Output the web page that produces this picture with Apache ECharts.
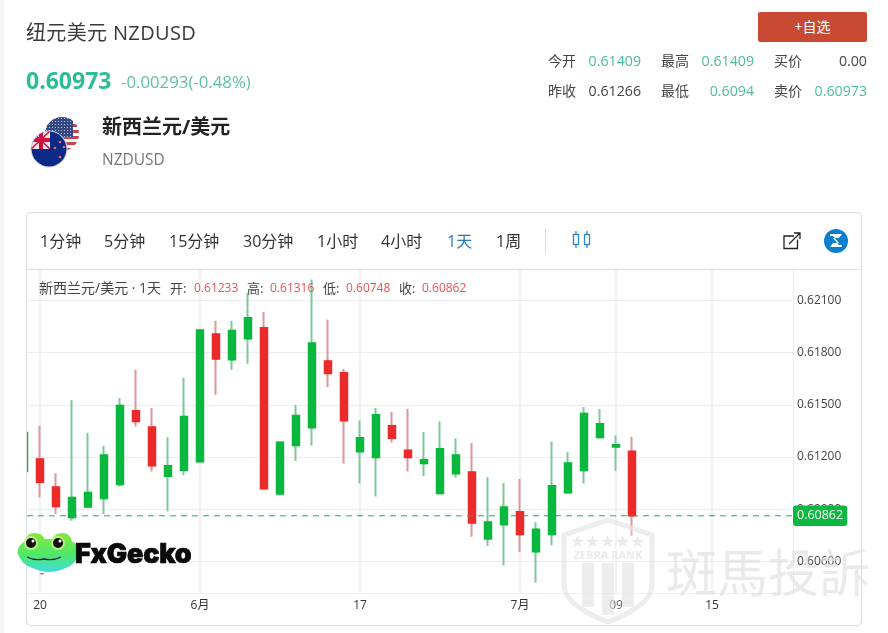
<!DOCTYPE html>
<html><head><meta charset="utf-8">
<script src="https://cdn.jsdelivr.net/npm/echarts@6/dist/echarts.min.js"></script>
<style>
html,body{margin:0;padding:0;width:888px;height:633px;overflow:hidden;background:#fff;font-family:"Open Sans","Noto Sans CJK SC",sans-serif;color:#333}
.t{position:absolute;white-space:nowrap;line-height:1;transform:translateY(-50%)}
.r{transform:translate(-100%,-50%)}
#strip{position:absolute;left:0;top:0;width:4px;height:633px;background:#f6f6f6}
#mask{position:absolute;left:4px;top:262px;width:22px;height:340px;background:#fff}
#card{position:absolute;left:26px;top:212px;width:834px;height:412px;border:1px solid #ddd;border-radius:5px;box-sizing:content-box}
#sep{position:absolute;left:27px;top:269px;width:833px;height:1px;background:#e2e2e2}
#chart{position:absolute;left:0;top:0;width:888px;height:633px}
#btn{position:absolute;left:758px;top:12px;width:109px;height:30px;background:#c84a35;border-radius:2px;color:#fff;font-size:14px;line-height:30px;text-align:center}
.lay{position:absolute;left:0;top:0;width:888px;height:633px;pointer-events:none}
</style></head><body>
<div id="chart"></div>
<div id="mask"></div>
<div id="strip"></div>
<div id="card"></div><div id="sep"></div>
<div class="lay" id="top"></div>
<script>
// ---- data ----
const xTickIndex = [1, 11, 21, 31, 37, 43];
const xTickLabels = ['20', '6月', '17', '7月', '09', '15'];
const yTicks = [0.606, 0.609, 0.612, 0.615, 0.618, 0.621];
const opens  = [.61116,.61188,.61027,.60852,.60913,.60961,.61042,.61466,.61372,.6109,.61124,.61172,.61907,.61759,.6188,.61943,.60988,.61266,.61368,.61751,.61684,.6123,.61197,.61379,.61239,.61162,.6099,.61103,.61113,.60729,.60811,.60885,.60656,.60754,.60994,.61122,.61312,.61258,.61233];
const closes = [.61341,.61055,.60915,.60967,.60996,.61211,.61496,.61404,.61149,.61149,.61433,.6193,.61763,.61926,.62,.61017,.61285,.61438,.61855,.6168,.61408,.6131,.61442,.61308,.61197,.61184,.61247,.61212,.60821,.60827,.60912,.60754,.60785,.61034,.61165,.6145,.61391,.6127,.60862];
const lows   = [.61116,.60967,.60873,.60833,.60913,.60873,.6103,.61375,.61116,.60887,.61096,.61172,.61558,.61701,.61736,.61017,.60988,.61178,.61266,.616,.61162,.61048,.60973,.61283,.61116,.6109,.6099,.6108,.60742,.60689,.60576,.60654,.60478,.60693,.60994,.61047,.61312,.6112,.60748];
const highs  = [.61341,.61379,.61107,.61527,.61339,.61264,.61539,.61701,.61481,.61314,.61655,.6193,.61983,.61983,.62144,.62033,.61285,.615,.62219,.61989,.61705,.6141,.61481,.61458,.61477,.61343,.61404,.61306,.6128,.61084,.6105,.61073,.60825,.61289,.61228,.61487,.61475,.61323,.61316];
const lastPrice = 0.60862;
const quoteLabels = ['今开','最高','买价','昨收','最低','卖价'];
const quoteValues = ['0.61409','0.61409','0.00','0.61266','0.6094','0.60973'];
const periods = ['1分钟','5分钟','15分钟','30分钟','1小时','4小时','1天','1周'];

// ---- page furniture ----
const GREEN='#4dbd9f', DARK='#444', RED='#e5535b';
const topLay=document.getElementById('top');
function txt(s,x,y,size,color,extra){const d=document.createElement('div');d.className='t'+(extra&&extra.right?' r':'');d.textContent=s;
 d.style.cssText=`left:${x}px;top:${y}px;font-size:${size}px;color:${color};`+(extra&&extra.css||'');topLay.appendChild(d);return d;}
txt('纽元美元 NZDUSD',26,33,20,'#3a3a3a',{css:'letter-spacing:.35px'});
txt('0.60973',26,80,23,'#2dbd96',{css:'font-weight:700'});
txt('-0.00293(-0.48%)',121,82,16.8,'#5fbfa3');
txt('新西兰元/美元',102,127,20,'#222',{css:'font-weight:700'});
txt('NZDUSD',102,160,15.5,'#777');
const qx=[548,661,774],qr=[641,754,867],qy=[61,91],qc=[GREEN,GREEN,DARK,DARK,GREEN,GREEN];
quoteLabels.forEach((l,i)=>{const c=i%3,r=Math.floor(i/3);
 txt(l,qx[c],qy[r],14,DARK);txt(quoteValues[i],qr[c],qy[r],14.2,qc[i],{right:true});});
const px=[40,104,169,243,317,381,447,496];
periods.forEach((p,i)=>txt(p,px[i],241,16,i===6?'#2a7ab8':'#333'));
const btn=document.createElement('div');btn.id='btn';btn.textContent='+自选';topLay.appendChild(btn);
// chart legend line
txt('新西兰元/美元 · 1天',39,288,14,'#444');
[['开:',170,'0.61233',194],['高:',247,'0.61316',270],['低:',323,'0.60748',346],['收:',399,'0.60862',422]].forEach(a=>{
 txt(a[0],a[1],288,13,'#444');txt(a[2],a[3],288,12,RED);});

topLay.insertAdjacentHTML('beforeend',`
<div style="position:absolute;left:545px;top:229px;width:1px;height:25px;background:#ddd"></div>
<svg style="position:absolute;left:0;top:0" width="888" height="633">
 <defs>
  <clipPath id="cu"><circle cx="62" cy="134" r="17"/></clipPath>
  <clipPath id="cn"><circle cx="49" cy="149" r="17.5"/></clipPath>
  <pattern id="dots" width="3" height="3" patternUnits="userSpaceOnUse"><rect width="3" height="3" fill="#34477f"/><circle cx="1.5" cy="1.500" r=".6" fill="#c5cde6"/></pattern>
  <linearGradient id="fg" x1="0" y1="0" x2="0" y2="1"><stop offset="0" stop-color="#86e83c"/><stop offset=".55" stop-color="#4fe86a"/><stop offset="1" stop-color="#3fdce0"/></linearGradient>
 </defs>
 <g clip-path="url(#cu)">
  <rect x="45" y="117" width="34" height="34" fill="#fff"/>
  <rect x="45" y="124" width="34" height="3" fill="#c8424f"/><rect x="45" y="130" width="34" height="3" fill="#c8424f"/><rect x="45" y="136" width="34" height="3" fill="#c8424f"/><rect x="45" y="142" width="34" height="3" fill="#c8424f"/><rect x="45" y="148" width="34" height="3" fill="#c8424f"/>
  <rect x="45" y="117" width="28" height="20" fill="url(#dots)"/>
 </g>
 <circle cx="49" cy="149" r="18" fill="#fff" stroke="#c8d4ee"/>
 <g clip-path="url(#cn)">
  <rect x="31" y="131" width="36" height="36" fill="#0b2a87"/>
  <rect x="31" y="131" width="19" height="18" fill="#f3e6ea"/>
  <rect x="39" y="131" width="4" height="18" fill="#d0113d"/><rect x="31" y="138" width="19" height="4" fill="#d0113d"/>
  <path d="M31 131L50 149M50 131L31 149" stroke="#d0113d" stroke-width="1.5"/>
  <circle cx="60" cy="142" r="1.3" fill="#e66"/><circle cx="55" cy="148" r="1.3" fill="#e66"/><circle cx="64" cy="147" r="1.3" fill="#e66"/><circle cx="60" cy="157" r="1.3" fill="#e66"/>
 </g>
 <!-- candle-type icon -->
 <g fill="none" stroke="#2a86c8" stroke-width="1.3"><rect x="573.5" y="234.5" width="5" height="10"/><rect x="584.5" y="234.5" width="5" height="10"/><path d="M576 231v3M576 245v3M587 231v3M587 245v3"/></g>
 <!-- share icon -->
 <g fill="none" stroke="#222" stroke-width="1.3"><path d="M794 236h-10v12.5h13.500v-9"/><path d="M789 244L800 233M794 233h6v6"/></g>
 <circle cx="836" cy="241" r="12" fill="#0a7fd0"/>
 <path d="M830 234h12l-3 4h-6l6 7h3v2h-12l3-4h6l-6-7h-3z" fill="#fff" fill-rule="evenodd"/>
 <!-- watermark -->
 <g opacity=".72">
  <path d="M564 535l44-15 44 15v50q0 20-44 37q-44-17-44-37z" fill="#fff" fill-opacity=".35" stroke="#e6e6e6" stroke-width="5"/>
  <rect x="582" y="563" width="12" height="44" fill="#e6e6e6"/><rect x="602" y="563" width="12" height="52" fill="#e6e6e6"/><rect x="622" y="563" width="12" height="44" fill="#e6e6e6"/>
  <text x="608" y="559" text-anchor="middle" font-size="11" font-weight="700" fill="#e2e2e2" font-family="Open Sans">ZEBRA RANK</text>
  <text x="608" y="546" text-anchor="middle" font-size="14" fill="#e2e2e2" letter-spacing="1">★★★★★</text>
  <text x="666" y="592" font-size="51" fill="#e2e2e2" font-family="Noto Sans CJK TC">斑馬投訴</text>
 </g>
 <!-- FxGecko logo -->
 <g>
  <path d="M18 553q0-8 8-12q1-8 9-8q8 0 10 6h8q2-6 10-6q8 0 9 8q8 4 8 12q-4 12-14 15q-8 4-16 4q-8 0-17-4q-11-3-15-15z" fill="url(#fg)" transform="translate(-.5 0)"/>
  <circle cx="31" cy="543" r="7" fill="#b9f27a"/><circle cx="58" cy="543" r="7" fill="#b9f27a"/>
  <circle cx="31" cy="543" r="5" fill="#111"/><circle cx="58" cy="543" r="5" fill="#111"/>
  <circle cx="33" cy="541" r="1.500" fill="#fff"/><circle cx="60" cy="541" r="1.500" fill="#fff"/>
  <path d="M27 557q8 4 17 2q9 2 17-2" fill="none" stroke="#123" stroke-width="1.3"/>
  <path d="M39 573h6l-3 2z" fill="#e66"/>
  <text x="75" y="562.500" font-size="27" font-weight="900" fill="#0a0a0a" stroke="#0a0a0a" stroke-width=".7" font-family="Inter, Roboto" letter-spacing="-.2">FxGecko</text>
 </g>
</svg>`);

// ---- chart ----
const UP='#0bb83f', DOWN='#ea2b2b', UP_W='#80c89a', DOWN_W='#e0969b';
const FONT='"Open Sans","Noto Sans CJK SC",sans-serif';
const X_MIN=0.1875, X_MAX=48.0625;
const wickData=opens.map((o,i)=>[i,o,closes[i],lows[i],highs[i]]);
const bodyData=opens.map((o,i)=>[i,o,closes[i],Math.min(o,closes[i]),Math.max(o,closes[i])]);
const chart=echarts.init(document.getElementById('chart'),null,{renderer:'canvas'});
const enc={x:0,y:[1,2,3,4]};
chart.setOption({
 animation:false,
 grid:{left:27,right:95,top:270,bottom:40},
 xAxis:{type:'value',min:X_MIN,max:X_MAX,
  axisLine:{show:true,onZero:false,lineStyle:{color:'#eee'}},
  axisTick:{show:false,customValues:xTickIndex},
  splitLine:{show:true,lineStyle:{color:'#ededed',width:1.5}},
  axisLabel:{customValues:xTickIndex,margin:7,fontSize:12,color:'#333',fontFamily:FONT,
   formatter:v=>xTickLabels[xTickIndex.indexOf(v)]}},
 yAxis:{type:'value',position:'right',min:0.604185,max:0.622743,
  axisLine:{show:true,lineStyle:{color:'#eee'}},
  axisTick:{show:false,customValues:yTicks},
  splitLine:{show:true,lineStyle:{color:'#ededed',width:1}},
  axisLabel:{customValues:yTicks,margin:4,fontSize:12,color:'#444',fontFamily:FONT,
   padding:[0,0,6,0],formatter:v=>v.toFixed(5)}},
 series:[
  {type:'candlestick',data:wickData,encode:enc,barWidth:2,z:2,
   itemStyle:{color:UP_W,color0:DOWN_W,borderColor:UP_W,borderColor0:DOWN_W,borderWidth:2}},
  {type:'candlestick',data:bodyData,encode:enc,barWidth:8,z:3,
   itemStyle:{color:UP,color0:DOWN,borderColor:UP,borderColor0:DOWN,borderWidth:1.5}},
  {type:'line',data:[[X_MIN,lastPrice],[X_MAX,lastPrice]],z:6,symbol:'none',silent:true,
   lineStyle:{color:'#1fae5a',type:[6,5],width:1},
   endLabel:{show:true,distance:0,formatter:lastPrice.toFixed(5),color:'#fff',fontSize:12.5,fontFamily:FONT,
     backgroundColor:UP,borderRadius:3,padding:[4,4,4,4]}}
 ]
});
</script>
</body></html>
